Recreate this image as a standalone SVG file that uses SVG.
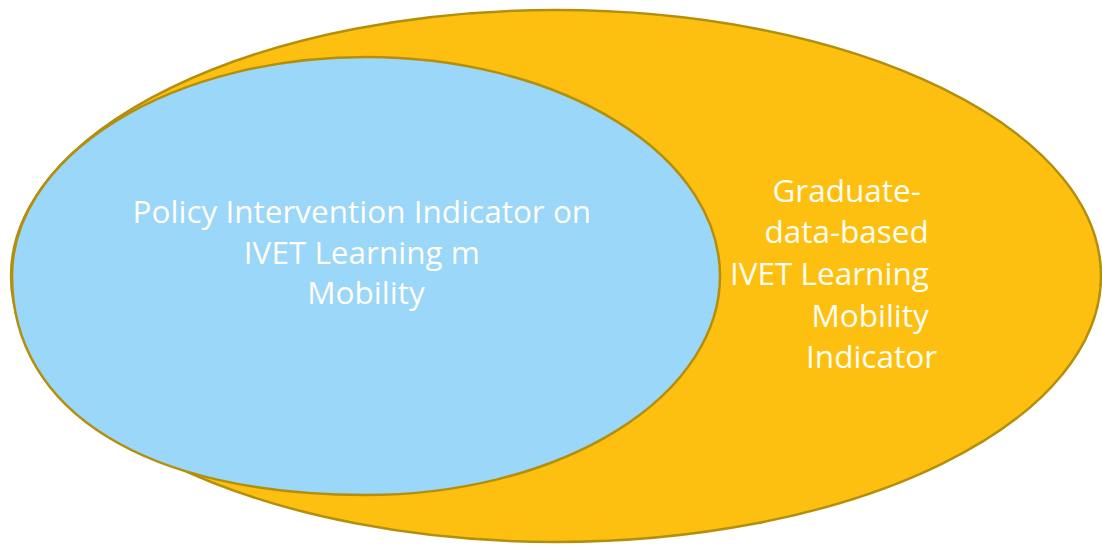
<svg xmlns="http://www.w3.org/2000/svg" width="1102" height="545" viewBox="0 0 1102 545">
  <style>
    .ring { stroke: #b38f0c; stroke-width: 2.5; }
    .label { font-family: "Open Sans", "Noto Sans", sans-serif; font-size: 31.5px; fill: #fffdf5; }
  </style>
  <rect width="1102" height="545" fill="#ffffff"/>
  <g id="graduate-indicator">
    <ellipse class="ring" cx="556" cy="276" rx="545" ry="266" fill="#fdc010"/>
    <text class="label" text-anchor="end">
      <tspan x="929" y="202">Graduate-</tspan>
      <tspan x="937" y="243">data-based</tspan>
      <tspan x="937" y="285">IVET Learning</tspan>
      <tspan x="937" y="327">Mobility</tspan>
      <tspan x="937" y="368">Indicator</tspan>
    </text>
  </g>
  <g id="policy-indicator">
    <!-- upper half and lower-right quarter are elliptical arcs; lower-left quarter bulges a little -->
    <path class="ring" fill="#9ad7f8"
          d="M 12 276 A 354 219 0 0 1 720 276 A 354 219 0 0 1 366 495 C 147 495 12 412 12 276 Z"/>
    <text class="label" text-anchor="middle">
      <tspan x="366" y="223">Policy Intervention Indicator on</tspan>
      <tspan x="366" y="264">IVET Learning m</tspan>
      <tspan x="366" y="304">Mobility</tspan>
    </text>
  </g>
  <g id="connectors"/>
</svg>
